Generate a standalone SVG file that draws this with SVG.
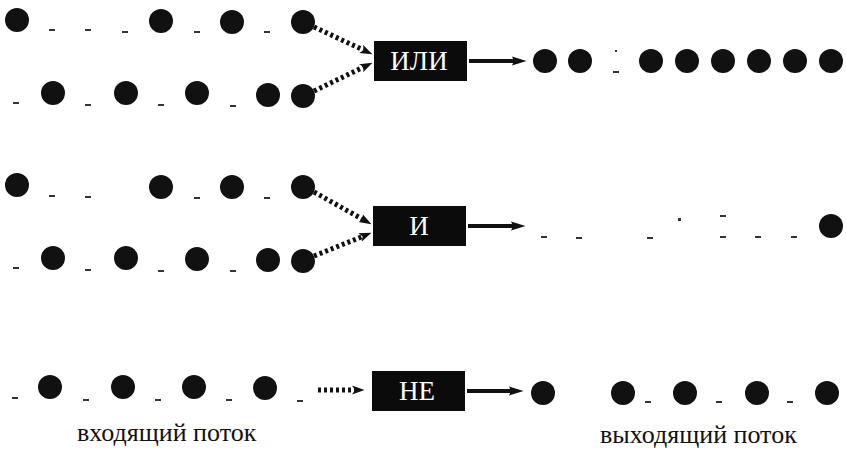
<svg xmlns="http://www.w3.org/2000/svg" width="846" height="452" viewBox="0 0 846 452">
<defs>
<marker id="hd" markerUnits="userSpaceOnUse" markerWidth="13" markerHeight="10" refX="3" refY="4.5" orient="auto" viewBox="0 0 13 9">
<path d="M0,0 L12.5,4.5 L0,9 L3,4.5 z" fill="#111"/>
</marker>
<marker id="hs" markerUnits="userSpaceOnUse" markerWidth="15" markerHeight="10" refX="2" refY="4.5" orient="auto" viewBox="0 0 15 9">
<path d="M0,0 L14.5,4.5 L0,9 L2,4.5 z" fill="#111"/>
</marker>
<circle id="b" r="12" fill="#111"/>
<rect id="s" x="-3" y="-1" width="6" height="2" fill="#333"/>
</defs>
<rect width="846" height="452" fill="#fff"/>

<g id="or-in-1">
<use href="#b" x="17" y="20"/>
<use href="#s" x="52" y="30"/>
<use href="#s" x="88" y="30"/>
<use href="#s" x="125" y="32"/>
<use href="#b" x="161" y="21"/>
<use href="#s" x="197" y="32"/>
<use href="#b" x="232" y="22"/>
<use href="#s" x="267" y="32"/>
<use href="#b" x="303" y="22"/>
</g>
<g id="or-in-2">
<use href="#s" x="16" y="103"/>
<use href="#b" x="53" y="93"/>
<use href="#s" x="88" y="105"/>
<use href="#b" x="126" y="93"/>
<use href="#s" x="161" y="105"/>
<use href="#b" x="197" y="93"/>
<use href="#s" x="233" y="106"/>
<use href="#b" x="268" y="95"/>
<use href="#b" x="303" y="96"/>
</g>
<g id="gate-or">
<rect x="374" y="41" width="93" height="40" fill="#0b0b0b"/>
<text x="419" y="70" font-family="Liberation Serif, Times New Roman, serif" font-size="27" fill="#fff" text-anchor="middle">ИЛИ</text>
</g>
<g id="or-out">
<use href="#b" x="545" y="61"/>
<use href="#b" x="580" y="61"/>
<rect x="615" y="50" width="2" height="2" fill="#333"/>
<use href="#s" x="616" y="72"/>
<use href="#b" x="651" y="61"/>
<use href="#b" x="687" y="61"/>
<use href="#b" x="723" y="61"/>
<use href="#b" x="759" y="61"/>
<use href="#b" x="795" y="61"/>
<use href="#b" x="831" y="61"/>
</g>

<g id="and-in-1">
<use href="#b" x="17" y="185"/>
<use href="#s" x="52" y="196"/>
<use href="#s" x="88" y="197"/>
<use href="#b" x="161" y="187"/>
<use href="#s" x="197" y="198"/>
<use href="#b" x="232" y="187"/>
<use href="#s" x="267" y="198"/>
<use href="#b" x="303" y="187"/>
</g>
<g id="and-in-2">
<use href="#s" x="16" y="268"/>
<use href="#b" x="53" y="258"/>
<use href="#s" x="88" y="270"/>
<use href="#b" x="126" y="258"/>
<use href="#s" x="161" y="271"/>
<use href="#b" x="197" y="259"/>
<use href="#s" x="233" y="271"/>
<use href="#b" x="268" y="260"/>
<use href="#b" x="303" y="261"/>
</g>
<g id="gate-and">
<rect x="373" y="206" width="93" height="40" fill="#0b0b0b"/>
<text x="419" y="235" font-family="Liberation Serif, Times New Roman, serif" font-size="27" fill="#fff" text-anchor="middle">И</text>
</g>
<g id="and-out">
<use href="#s" x="544" y="237"/>
<use href="#s" x="579" y="238"/>
<use href="#s" x="650" y="238"/>
<rect x="678" y="218" width="3" height="3" fill="#333"/>
<use href="#s" x="723" y="216"/>
<use href="#s" x="723" y="237"/>
<use href="#s" x="758" y="237"/>
<use href="#s" x="794" y="237"/>
<use href="#b" x="831" y="226"/>
</g>

<g id="not-in">
<use href="#s" x="15" y="398"/>
<use href="#b" x="50" y="387"/>
<use href="#s" x="86" y="400"/>
<use href="#b" x="123" y="387"/>
<use href="#s" x="158" y="400"/>
<use href="#b" x="194" y="387"/>
<use href="#s" x="229" y="400"/>
<use href="#b" x="265" y="388"/>
<use href="#s" x="300" y="401"/>
</g>
<g id="gate-not">
<rect x="372" y="371" width="93" height="40" fill="#0b0b0b"/>
<text x="417" y="400" font-family="Liberation Serif, Times New Roman, serif" font-size="27" fill="#fff" text-anchor="middle">НЕ</text>
</g>
<g id="not-out">
<use href="#b" x="543" y="393"/>
<use href="#b" x="623" y="393"/>
<use href="#s" x="648" y="402"/>
<use href="#b" x="685" y="393"/>
<use href="#s" x="719" y="402"/>
<use href="#b" x="757" y="393"/>
<use href="#s" x="790" y="402"/>
<use href="#b" x="827" y="393"/>
</g>

<g id="connectors" fill="none" stroke="#111">
<g stroke-width="5" stroke-dasharray="3 3" marker-end="url(#hd)">
<path d="M314,27 L363.8,50.2"/>
<path d="M314,91 L363.9,66.9"/>
<path d="M314,192 L363.2,219.6"/>
<path d="M314,256 L362.7,236.4"/>
<path d="M318,390 L355,390"/>
</g>
<g stroke-width="4" marker-end="url(#hs)">
<path d="M469,61 L514,61"/>
<path d="M468,226 L513,226"/>
<path d="M467,391 L511,391"/>
</g>
</g>

<g id="labels" font-family="Liberation Serif, Times New Roman, serif" font-size="26" fill="#111">
<text x="77" y="441">входящий поток</text>
<text x="600" y="443">выходящий поток</text>
</g>
</svg>
